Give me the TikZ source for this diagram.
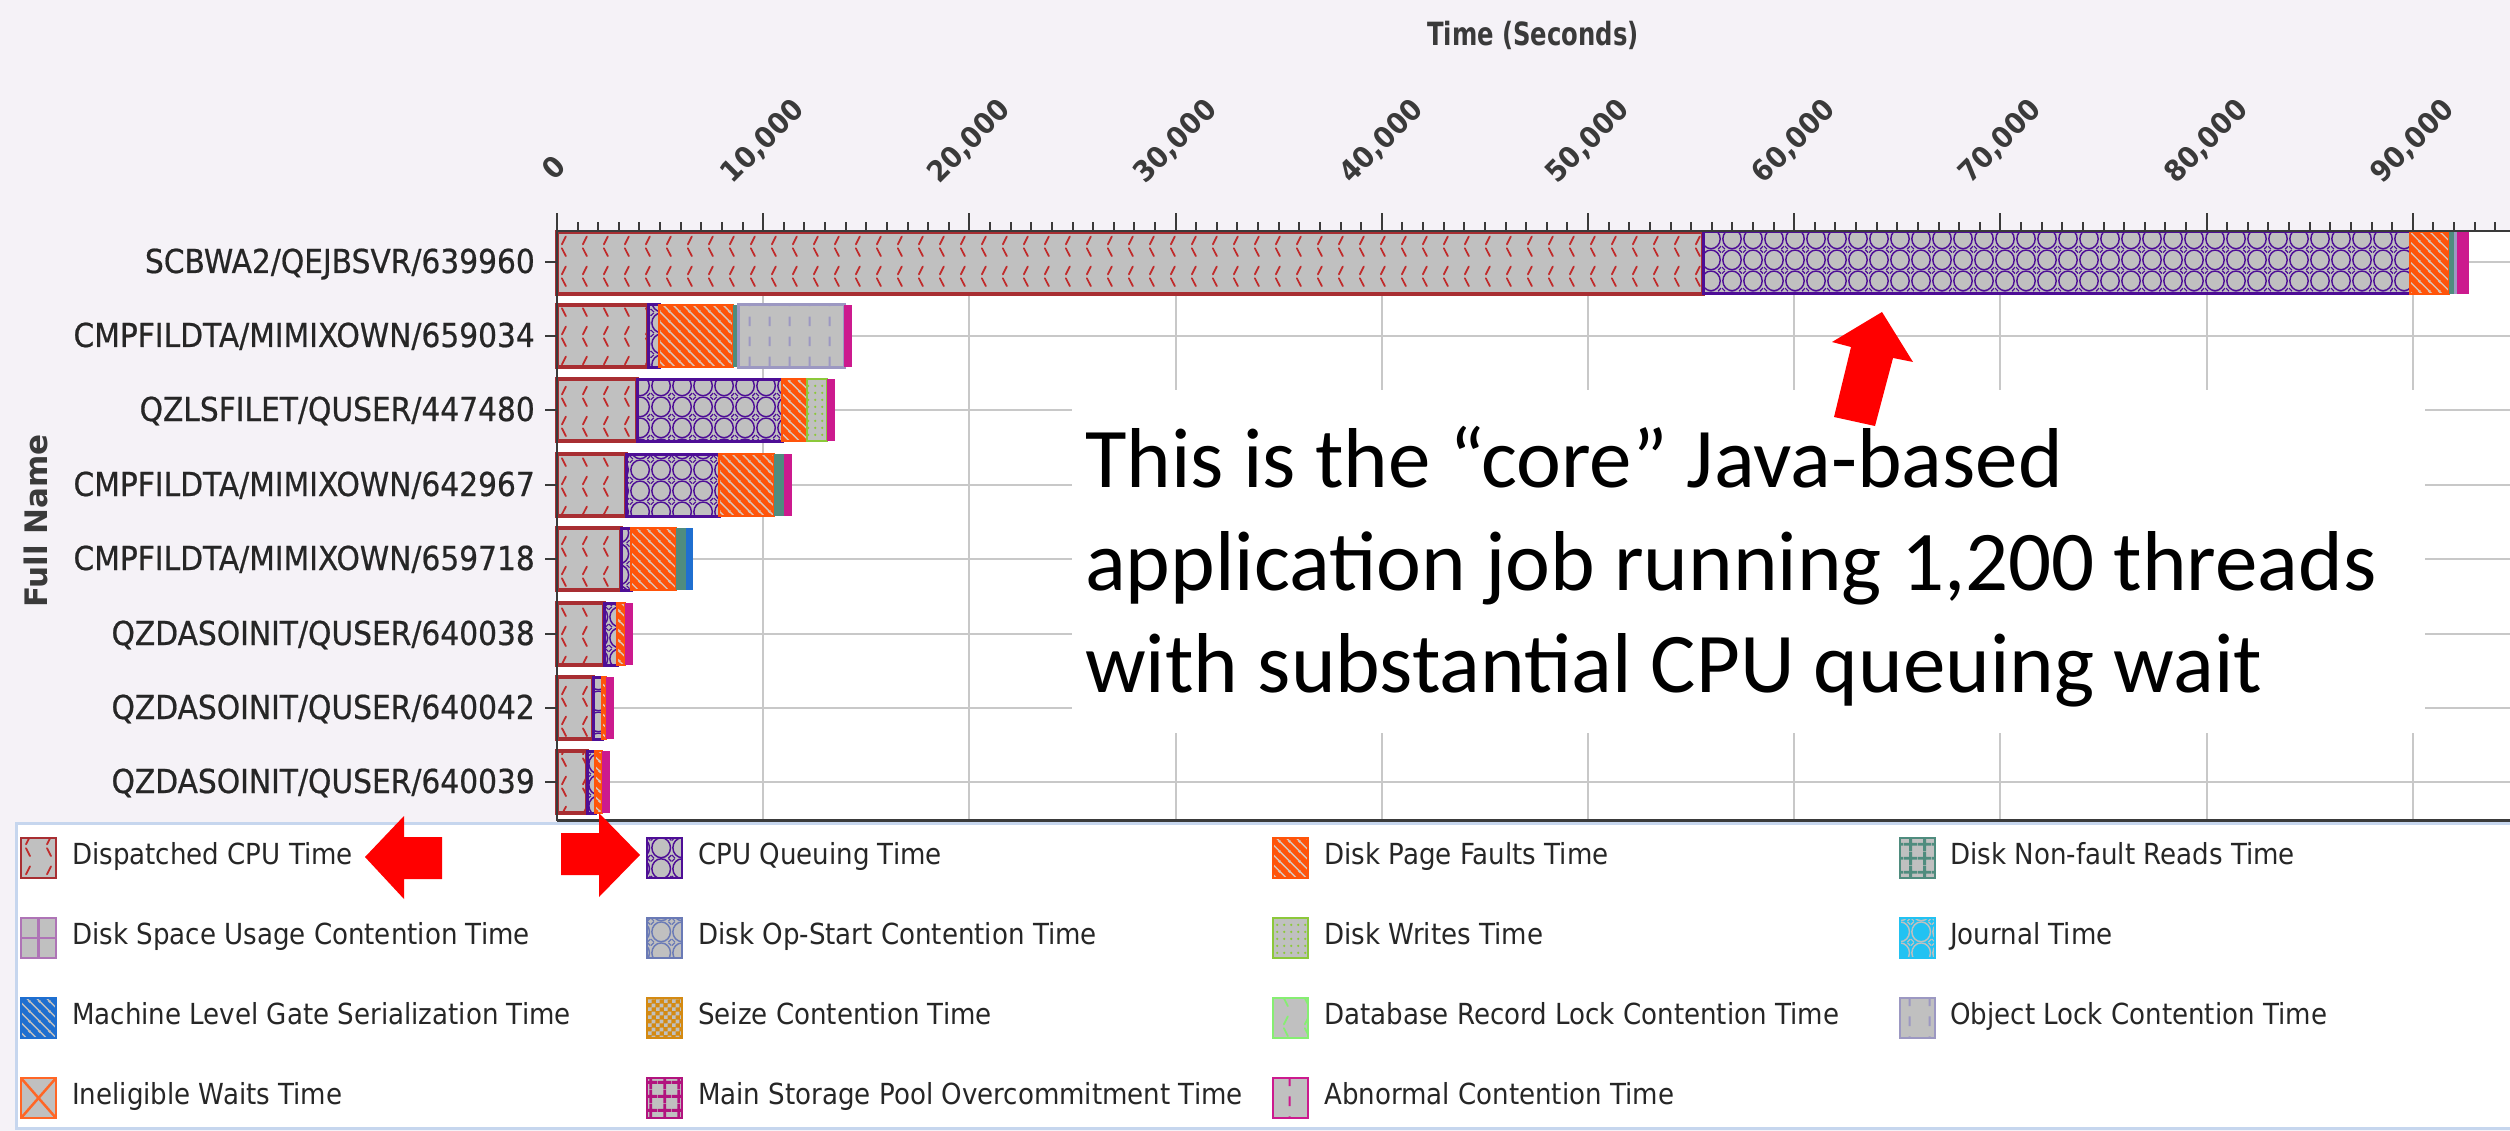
\documentclass[tikz,border=0pt]{standalone}
\usepackage{fontspec}
\setmainfont{DejaVu Sans}
\newfontfamily\ylabfont[FakeStretch=0.9,FakeBold=0.6]{DejaVu Sans}
\newfontfamily\legfont[FakeStretch=0.9]{DejaVu Sans}
\newfontfamily\titfont[FakeStretch=0.76]{DejaVu Sans}
\newfontfamily\tickfont[FakeStretch=0.92]{DejaVu Sans}
\newfontfamily\calfont{Carlito}
\usetikzlibrary{patterns,patterns.meta}

\definecolor{bgc}{HTML}{F5F2F7}
\definecolor{gridc}{HTML}{C8C8C8}
\definecolor{axisc}{HTML}{3A3A3A}
\definecolor{txtc}{HTML}{262626}
\definecolor{barg}{HTML}{C0C0C0}
\definecolor{cred}{HTML}{A82E32}
\definecolor{cmark}{HTML}{C02A2A}
\definecolor{cpur}{HTML}{4E0E96}
\definecolor{corg}{HTML}{FF540A}
\definecolor{cstripe}{HTML}{D9C6BC}
\definecolor{cteal}{HTML}{4F8C7E}
\definecolor{cmag}{HTML}{CC1A8E}
\definecolor{cgrn}{HTML}{8CC83A}
\definecolor{clav}{HTML}{9C98C2}
\definecolor{cblue}{HTML}{1F6FD0}
\definecolor{ccyan}{HTML}{22C2F2}
\definecolor{cmauve}{HTML}{AE74B6}
\definecolor{cslate}{HTML}{6A7AB6}
\definecolor{camber}{HTML}{D48A12}
\definecolor{clgrn}{HTML}{86EE72}
\definecolor{corgb}{HTML}{FF6626}
\definecolor{cmsp}{HTML}{B2137E}
\definecolor{legb}{HTML}{C6D6EE}
\definecolor{arrred}{HTML}{FF0000}

\tikzdeclarepattern{
  name=dcpupat, type=uncolored,
  bounding box={(0pt,0pt) and (20.62pt,30pt)},
  tile size={(20.62pt,30pt)},
  code={\tikzset{x=1pt,y=1pt}
    \draw[line width=1.8pt,line cap=round] (6,17) -- (10,25);
    \draw[line width=1.8pt,line cap=round] (6,13) -- (10,5);}
}
\tikzdeclarepattern{
  name=cpuqpat, type=uncolored,
  bounding box={(0pt,0pt) and (21pt,21pt)},
  tile size={(21pt,21pt)},
  code={\tikzset{x=1pt,y=1pt}
    \draw[line width=1.5pt] (10.5,10.5) ellipse [x radius=9.6, y radius=10.2];
    \draw[line width=1.2pt] (0,3) -- (3,0) (18,0) -- (21,3) (0,18) -- (3,21) (18,21) -- (21,18);}
}
\tikzdeclarepattern{
  name=stripepat, type=uncolored,
  bounding box={(0pt,0pt) and (10pt,10pt)},
  tile size={(10pt,10pt)},
  code={\tikzset{x=1pt,y=1pt}
    \draw[line width=1.5pt] (-1,11) -- (11,-1) (-1,1) -- (1,-1) (9,11) -- (11,9);}
}
\tikzdeclarepattern{
  name=objpat, type=uncolored,
  bounding box={(0pt,0pt) and (20pt,20pt)},
  tile size={(20pt,20pt)},
  code={\tikzset{x=1pt,y=1pt}
    \draw[line width=2pt] (10,5) -- (10,15);}
}
\tikzdeclarepattern{
  name=dotpat, type=uncolored,
  bounding box={(0pt,0pt) and (7pt,7pt)},
  tile size={(7pt,7pt)},
  code={\tikzset{x=1pt,y=1pt}
    \fill (3.5,3.5) circle (1.4);}
}
\tikzdeclarepattern{
  name=gridpat, type=uncolored,
  bounding box={(0pt,0pt) and (14pt,14pt)},
  tile size={(14pt,14pt)},
  code={\tikzset{x=1pt,y=1pt}
    \draw[line width=3pt] (7,0) -- (7,14) (0,7) -- (14,7);}
}
\tikzdeclarepattern{
  name=chkpat, type=uncolored,
  bounding box={(0pt,0pt) and (8pt,8pt)},
  tile size={(8pt,8pt)},
  code={\tikzset{x=1pt,y=1pt}
    \fill (0,0) rectangle (4,4) (4,4) rectangle (8,8);}
}

\newcommand\barseg[4]{\path[#1] (#2,{#4-31}) rectangle (#3,{#4+31});}
\newcommand\legbox[3]{\path[#1] (#2,#3) rectangle ++(35,40);}

\begin{document}
\begin{tikzpicture}[x=1pt,y=-1pt,
  grid/.style={draw=gridc,line width=2pt},
  axisl/.style={draw=axisc,line width=2.5pt},
  sDC/.style={preaction={fill=barg},pattern=dcpupat,pattern color=cmark,draw=cred,line width=3.5pt},
  sCQ/.style={preaction={fill=barg},pattern=cpuqpat,pattern color=cpur,draw=cpur,line width=3pt},
  sPF/.style={preaction={fill=corg},pattern=stripepat,pattern color=cstripe,draw=corg,line width=2pt},
  sNF/.style={fill=cteal},
  sOL/.style={preaction={fill=barg},pattern=objpat,pattern color=clav,draw=clav,line width=3pt},
  sAB/.style={fill=cmag},
  sDW/.style={preaction={fill=barg},pattern=dotpat,pattern color=cgrn,draw=cgrn,line width=2pt},
  sMG/.style={fill=cblue},
  ylab/.style={anchor=base east,inner sep=0pt,text=txtc,font=\ylabfont\fontsize{33}{38}\selectfont},
  legtxt/.style={anchor=base west,inner sep=0pt,text=txtc,font=\legfont\fontsize{29}{34}\selectfont},
  ticklab/.style={rotate=45,inner sep=0pt,text=axisc,font=\tickfont\bfseries\fontsize{29}{34}\selectfont},
  anntxt/.style={anchor=base west,inner sep=0pt,text=black,font=\calfont\fontsize{85}{102}\selectfont},
  iDC/.style={sDC,line width=2.5pt},
  iCQ/.style={sCQ,line width=2.5pt},
  iPF/.style={sPF},
  iNF/.style={preaction={fill=barg},pattern=gridpat,pattern color=cteal,draw=cteal,line width=2.5pt},
  iSU/.style={fill=barg,draw=cmauve,line width=2.5pt},
  iOS/.style={preaction={fill=barg},pattern=cpuqpat,pattern color=cslate,draw=cslate,line width=2.5pt},
  iDW/.style={preaction={fill=barg},pattern=dotpat,pattern color=cgrn,draw=cgrn,line width=2.5pt},
  iJT/.style={preaction={fill=ccyan},pattern=cpuqpat,pattern color=barg,draw=ccyan,line width=2.5pt},
  iMG/.style={preaction={fill=cblue},pattern=stripepat,pattern color=barg,draw=cblue,line width=2.5pt},
  iSZ/.style={preaction={fill=camber},pattern=chkpat,pattern color=barg,draw=camber,line width=2.5pt},
  iDB/.style={preaction={fill=barg},pattern=dcpupat,pattern color=clgrn,draw=clgrn,line width=2.5pt},
  iOL/.style={preaction={fill=barg},pattern=objpat,pattern color=clav,draw=clav,line width=2.5pt},
  iIW/.style={fill=barg,draw=corgb,line width=2.5pt},
  iMS/.style={preaction={fill=barg},pattern=gridpat,pattern color=cmsp,draw=cmsp,line width=2.5pt},
  iAB/.style={preaction={fill=barg},pattern=objpat,pattern color=cmag,draw=cmag,line width=2.5pt}
]
\useasboundingbox (0,0) rectangle (2510,1131);
\fill[bgc] (0,0) rectangle (2510,1131);
\fill[white] (557,231) rectangle (2510,822);

% gridlines
\foreach \k in {1,...,9} \draw[grid] ({557+206.2*\k},231) -- ({557+206.2*\k},822);
\foreach \yc in {262,336,410,485,559,634,708,782} \draw[grid] (557,\yc) -- (2510,\yc);

% white box behind the annotation
\fill[white] (1072,390) rectangle (2425,733);

% bars
\barseg{sDC}{557}{1703}{263}
\barseg{sCQ}{1703}{2410}{263}
\barseg{sPF}{2410}{2449}{263}
\barseg{sNF}{2449}{2454}{263}
\barseg{fill=clav}{2454}{2457}{263}
\barseg{sAB}{2457}{2469}{263}

\barseg{sDC}{557}{648}{336}
\barseg{sCQ}{648}{659}{336}
\barseg{sPF}{659}{733}{336}
\barseg{sNF}{733}{738}{336}
\barseg{sOL}{738}{844}{336}
\barseg{sAB}{844}{852}{336}

\barseg{sDC}{557}{637}{410}
\barseg{sCQ}{637}{782}{410}
\barseg{sPF}{782}{807}{410}
\barseg{sDW}{807}{827}{410}
\barseg{sAB}{827}{835}{410}

\barseg{sDC}{557}{626}{485}
\barseg{sCQ}{626}{719}{485}
\barseg{sPF}{719}{774}{485}
\barseg{sNF}{774}{784}{485}
\barseg{sAB}{784}{792}{485}

\barseg{sDC}{557}{621}{559}
\barseg{sCQ}{621}{631}{559}
\barseg{sPF}{631}{676}{559}
\barseg{sNF}{676}{686}{559}
\barseg{sMG}{686}{693}{559}

\barseg{sDC}{557}{604}{634}
\barseg{sCQ}{604}{617}{634}
\barseg{sPF}{617}{625}{634}
\barseg{sAB}{625}{633}{634}

\barseg{sDC}{557}{593}{708}
\barseg{sCQ}{593}{602}{708}
\barseg{sPF}{602}{606}{708}
\barseg{sAB}{606}{614}{708}

\barseg{sDC}{557}{587}{782}
\barseg{sCQ}{587}{595}{782}
\barseg{sPF}{595}{602}{782}
\barseg{sAB}{602}{610}{782}

% legend panel
\draw[legb,line width=3pt,fill=white] (16,823) rectangle (2516,1128);

% axes
\draw[axisl] (557,231) -- (2510,231);
\foreach \i in {0,...,94} \draw[axisl,line width=2pt] ({557+20.62*\i},231) -- ++(0,-9);
\foreach \k in {0,...,9} \draw[axisl,line width=2pt] ({557+206.2*\k},231) -- ++(0,-18);
\draw[axisl] (557,214) -- (557,821);
\foreach \yc in {262,336,410,485,559,634,708,782} \draw[axisl,line width=2pt] (545,\yc) -- (557,\yc);
\draw[axisl,line width=3pt] (557,820) -- (2510,820);

% axis tick labels
\node[ticklab] (tl0) at (554,167) {0};
\foreach \k in {1,...,9} \node[ticklab] (tl\k) at ({557+206.2*\k},142) {\k0,000};

% titles
\node[inner sep=0pt,text=axisc,font=\titfont\bfseries\fontsize{32}{38}\selectfont] (xtitle) at (1533,35) {Time (Seconds)};
\node[inner sep=0pt,rotate=90,text=axisc,font=\bfseries\fontsize{31}{36}\selectfont] (ytitle) at (36,521) {Full Name};

% row labels
\node[ylab] (r1) at (535,273) {SCBWA2/QEJBSVR/639960};
\node[ylab] (r2) at (535,347) {CMPFILDTA/MIMIXOWN/659034};
\node[ylab] (r3) at (535,421) {QZLSFILET/QUSER/447480};
\node[ylab] (r4) at (535,496) {CMPFILDTA/MIMIXOWN/642967};
\node[ylab] (r5) at (535,570) {CMPFILDTA/MIMIXOWN/659718};
\node[ylab] (r6) at (535,645) {QZDASOINIT/QUSER/640038};
\node[ylab] (r7) at (535,719) {QZDASOINIT/QUSER/640042};
\node[ylab] (r8) at (535,793) {QZDASOINIT/QUSER/640039};

% legend icons
\legbox{iDC}{21}{838}
\legbox{iSU}{21}{918}
\draw[cmauve,line width=2.5pt] (38.5,918) -- (38.5,958) (21,938) -- (56,938);
\legbox{iMG}{21}{998}
\legbox{iIW}{21}{1078}
\draw[corgb,line width=2.5pt] (21,1078) -- (56,1118) (56,1078) -- (21,1118);
\legbox{iCQ}{647}{838}
\legbox{iOS}{647}{918}
\legbox{iSZ}{647}{998}
\legbox{iMS}{647}{1078}
\legbox{iPF}{1273}{838}
\legbox{iDW}{1273}{918}
\legbox{iDB}{1273}{998}
\legbox{iAB}{1273}{1078}
\legbox{iNF}{1900}{838}
\legbox{iJT}{1900}{918}
\legbox{iOL}{1900}{998}

% legend texts
\node[legtxt] (l1) at (72,864) {Dispatched CPU Time};
\node[legtxt] (l2) at (72,944) {Disk Space Usage Contention Time};
\node[legtxt] (l3) at (72,1024) {Machine Level Gate Serialization Time};
\node[legtxt] (l4) at (72,1104) {Ineligible Waits Time};
\node[legtxt] (l5) at (698,864) {CPU Queuing Time};
\node[legtxt] (l6) at (698,944) {Disk Op-Start Contention Time};
\node[legtxt] (l7) at (698,1024) {Seize Contention Time};
\node[legtxt] (l8) at (698,1104) {Main Storage Pool Overcommitment Time};
\node[legtxt] (l9) at (1324,864) {Disk Page Faults Time};
\node[legtxt] (l10) at (1324,944) {Disk Writes Time};
\node[legtxt] (l11) at (1324,1024) {Database Record Lock Contention Time};
\node[legtxt] (l12) at (1324,1104) {Abnormal Contention Time};
\node[legtxt] (l13) at (1950,864) {Disk Non-fault Reads Time};
\node[legtxt] (l14) at (1950,944) {Journal Time};
\node[legtxt] (l15) at (1950,1024) {Object Lock Contention Time};

% red arrows
\fill[arrred] (1882,312) -- (1913,362) -- (1893,358) -- (1875,426) -- (1834,417) -- (1851,347) -- (1832,342) -- cycle;
\fill[arrred] (365,857) -- (404,816) -- (404,837) -- (442,837) -- (442,879) -- (404,879) -- (404,899) -- cycle;
\fill[arrred] (640,855) -- (599,813) -- (599,833) -- (561,833) -- (561,875) -- (599,875) -- (599,897) -- cycle;

% annotation
\node[anntxt] (a1) at (1085,487) {This is the “core” Java-based};
\node[anntxt] (a2) at (1085,590) {application job running 1,200 threads};
\node[anntxt] (a3) at (1085,692) {with substantial CPU queuing wait};
\end{tikzpicture}
\end{document}
